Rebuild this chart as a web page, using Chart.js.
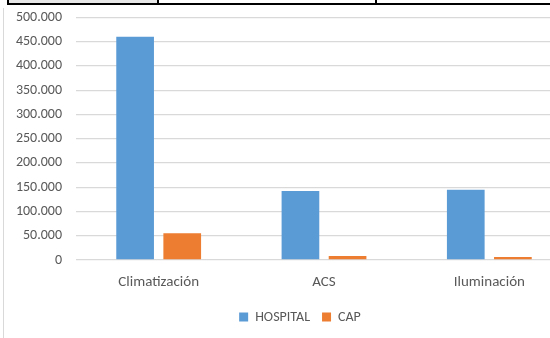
<!DOCTYPE html>
<html>
<head>
<meta charset="utf-8">
<script src="https://cdn.jsdelivr.net/npm/chart.js@4/dist/chart.umd.min.js"></script>
<style>
    html, body { margin: 0; padding: 0; background: #fff; overflow: hidden; width: 550px; height: 338px; }
    #wrap { position: absolute; left: 0; top: -5px; width: 600px; height: 343px; }
    /* bits of the table and frame around the pasted chart */
    .tcell { position: absolute; top: -2px; height: 5px; border: 2px solid #000; border-top: none; }
    #frame { position: absolute; left: 3px; top: 8px; width: 1px; height: 340px; background: #d9d9d9; }
</style>
</head>
<body>
<div id="wrap"><canvas id="chart" width="600" height="343"></canvas></div>
<div class="tcell" style="left:7px; width:148px; background:#e7e7e7;"></div>
<div class="tcell" style="left:157px; width:218px; border-left:none;"></div>
<div class="tcell" style="left:377px; width:200px; border-left:none;"></div>
<div id="frame"></div>
<script>
// data
const categories = ['Climatización', 'ACS', 'Iluminación'];
const hospital = [460000, 142000, 145000];
const cap = [55000, 8000, 6000];

const textGray = '#595959';
const fontFamily = 'Calibri, Carlito, "Liberation Sans", Arial, sans-serif';

// 500000 -> "500.000"
function puntos(v) {
    return String(v).replace(/\B(?=(\d{3})+(?!\d))/g, '.');
}

const ctx = document.getElementById('chart').getContext('2d');
new Chart(ctx, {
    type: 'bar',
    data: {
        labels: categories,
        datasets: [{
            label: 'HOSPITAL',
            data: hospital,
            backgroundColor: '#5b9bd5'
        }, {
            label: 'CAP',
            data: cap,
            backgroundColor: '#ed7d31'
        }]
    },
    options: {
        responsive: false,
        animation: false,
        categoryPercentage: 0.57,
        barPercentage: 0.8,
        layout: { padding: { top: 0, bottom: 4 } },
        plugins: {
            tooltip: { enabled: false },
            legend: {
                position: 'bottom',
                labels: {
                    boxWidth: 9,
                    boxHeight: 9,
                    padding: 12,
                    color: textGray,
                    font: { family: fontFamily, size: 14 }
                }
            }
        },
        scales: {
            x: {
                grid: { display: false, drawTicks: false },
                border: { display: false },
                afterFit: function (scale) { scale.height -= 6; },
                ticks: {
                    color: textGray,
                    padding: 13,
                    font: { family: fontFamily, size: 15 }
                }
            },
            y: {
                min: 0,
                max: 500000,
                afterFit: function (scale) { scale.width = 76; },
                ticks: {
                    stepSize: 50000,
                    padding: 14,
                    color: textGray,
                    font: { family: fontFamily, size: 14 },
                    callback: v => puntos(v)
                },
                grid: { color: '#d9d9d9', lineWidth: 1.3, drawTicks: false },
                border: { display: false }
            },
            // empty axis on the right, only there to keep the plot wider than the page
            spare: {
                type: 'linear',
                position: 'right',
                display: true,
                grid: { display: false },
                border: { display: false },
                ticks: { display: false },
                afterFit: function (scale) { scale.width = 28; }
            }
        }
    }
});
</script>
</body>
</html>
